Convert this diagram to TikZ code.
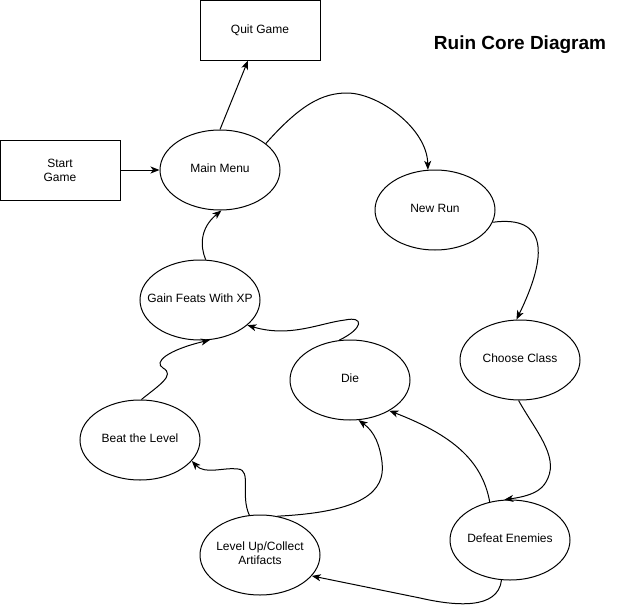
\documentclass[tikz,border=0pt]{standalone}
\usepackage{fontspec}
\setmainfont{Liberation Sans}
\usetikzlibrary{arrows.meta,shapes.geometric}
\newcommand{\zw}[1]{\makebox[0pt][c]{\raisebox{-1.5pt}{\begin{tabular}{@{}c@{}}#1\end{tabular}}}}
\begin{document}
\begin{tikzpicture}[x=1pt,y=-1pt,
  box/.style={draw,line width=1pt,minimum width=120pt,minimum height=60pt,inner sep=0pt,align=center,font=\fontsize{12}{14}\selectfont},
  oval/.style={draw,ellipse,line width=1pt,minimum width=120pt,minimum height=80pt,inner sep=0pt,font=\fontsize{12}{14}\selectfont},
  conn/.style={line width=1pt,-{Stealth[length=9pt,width=7pt,inset=2.5pt]}}]
\useasboundingbox (0,0) rectangle (619,605);
\node[box] (quit) at (260,30) {Quit Game};
\node[box] (start) at (60,170) {Start\\Game};
\node[oval] (menu) at (220,170) {\zw{Main Menu}};
\node[oval] (run) at (435,210) {\zw{New Run}};
\node[oval] (class) at (520,360) {\zw{Choose Class}};
\node[oval] (defeat) at (510,540) {\zw{Defeat Enemies}};
\node[oval] (die) at (350,380) {\zw{Die}};
\node[oval] (level) at (260,555) {\zw{Level Up/Collect\\Artifacts}};
\node[oval] (beat) at (140,440) {\zw{Beat the Level}};
\node[oval] (feats) at (200,300) {\zw{Gain Feats With XP}};
\node[font=\bfseries\fontsize{19}{22}\selectfont] (title) at (520,45) {Ruin Core Diagram};

\draw[conn] (start) -- (menu);
\draw[conn] (menu.north) -- (quit.south -| 248,0);
\draw[conn] (menu.30) .. controls (300,105) and (322,93) .. (347,93) .. controls (378,93) and (427,128) .. (run.100);
\draw[conn] (run.-12) .. controls (548,215) and (548,255) .. (class.95);
\draw[conn] (class.-92) .. controls (535,430) and (558,455) .. (548,478) .. controls (544,487) and (538,495) .. (defeat.98);
\draw[conn] (defeat.118) .. controls (482,460) and (452,435) .. (die.-38);
\draw[conn] (defeat.-102) .. controls (498,610) and (455,606) .. (420,598) -- (level.-22);
\draw[conn] (level.66) .. controls (362,512) and (386,492) .. (382,462) .. controls (380,446) and (375,432) .. (die.-78);
\draw[conn] (level.105) .. controls (240,495) and (252,470) .. (238,469) .. controls (224,467) and (205,475) .. (beat.-22);
\draw[conn] (beat.88) .. controls (158,386) and (176,375) .. (163,368) .. controls (153,362) and (168,350) .. (feats.-76);
\draw[conn] (die.105) .. controls (364,328) and (364,316) .. (345,320) .. controls (320,323) and (290,338) .. (feats.-28);
\draw[conn] (feats.82) .. controls (200,246) and (200,228) .. (menu.-88);
\end{tikzpicture}
\end{document}
